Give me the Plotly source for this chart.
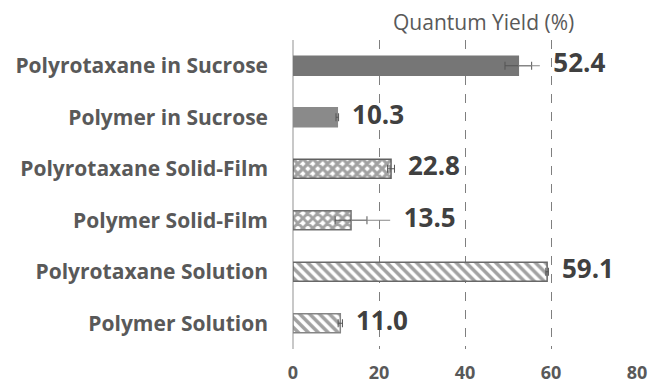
import plotly.graph_objects as go

categories = ["Polyrotaxane in Sucrose", "Polymer in Sucrose", "Polyrotaxane Solid-Film",
              "Polymer Solid-Film", "Polyrotaxane Solution", "Polymer Solution"]
values = [52.4, 10.3, 22.8, 13.5, 59.1, 11.0]
errors = [3.1, 0.3, 0.8, 3.7, 0.3, 0.5]
errors_ext = [5.0, 0.0, 0.0, 9.1, 0.0, 0.0]
labels = ["52.4", "10.3", "22.8", "13.5", "59.1", "11.0"]
x_ticks = [0, 20, 40, 60, 80]

patterns = ["", "", "x", "x", "\\", "\\"]
solidity = [0.5, 0.5, 0.7, 0.65, 0.5, 0.5]
fills = ["#767676", "#8a8a8a", "#ffffff", "#ffffff", "#ffffff", "#ffffff"]
pat_fg = ["#767676", "#8a8a8a", "#606060", "#707070", "#686868", "#858585"]
borders = ["#767676", "#8a8a8a", "#606060", "#707070", "#686868", "#858585"]

FONT = "Open Sans"

fig = go.Figure()
fig.add_trace(go.Bar(
    y=categories, x=values, orientation="h", width=0.37,
    marker=dict(color=fills, line=dict(color=borders, width=1.5),
                pattern=dict(shape=patterns, fgcolor=pat_fg, bgcolor="#ffffff",
                             size=7, solidity=solidity, fillmode="overlay")),
    error_x=dict(type="data", array=errors, color="#555555", thickness=1, width=4),
    hoverinfo="skip", showlegend=False,
))
fig.add_trace(go.Scatter(
    y=categories, x=values, mode="markers", marker=dict(size=1, opacity=0),
    error_x=dict(type="data", symmetric=False, array=errors_ext,
                 arrayminus=[0] * len(values), color="#888888", thickness=1, width=0),
    hoverinfo="skip", showlegend=False,
))
label_x = [v + max(e, x) for v, e, x in zip(values, errors, errors_ext)]
fig.add_trace(go.Scatter(
    y=categories, x=label_x, mode="text",
    text=["  " + t for t in labels], textposition="middle right",
    textfont=dict(family=FONT, size=26, color="#404040", weight="bold"),
    showlegend=False, hoverinfo="skip", cliponaxis=False,
))

fig.update_layout(
    width=649, height=383,
    margin=dict(l=293, r=12, t=40, b=34, autoexpand=False),
    plot_bgcolor="white", paper_bgcolor="white",
    xaxis=dict(range=[0, 80], tickvals=x_ticks, showgrid=True, gridcolor="#7f7f7f",
               griddash="dash", gridwidth=1, zeroline=True, zerolinecolor="#c8c8c8",
               zerolinewidth=1.5, ticks="", ticklabelstandoff=11, automargin=False,
               tickfont=dict(family=FONT, size=18, color="#595959", weight="bold"),
               fixedrange=True),
    yaxis=dict(autorange="reversed", showgrid=False, ticks="", ticklabelstandoff=24,
               automargin=False,
               tickfont=dict(family=FONT, size=21, color="#595959", weight="bold")),
    annotations=[dict(text="Quantum Yield (%)", xref="paper", yref="paper",
                      x=0.553, y=1.0, yshift=18, showarrow=False, yanchor="middle",
                      font=dict(family=FONT, size=21, color="#595959"))],
)

fig.write_html("out.html")
